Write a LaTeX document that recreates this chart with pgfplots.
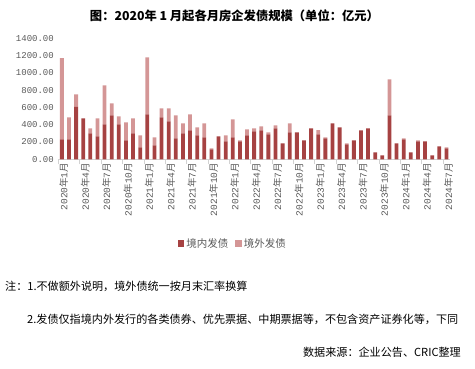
\documentclass[border=0pt]{standalone}
\usepackage{fontspec}
\setmainfont{Noto Sans CJK SC}
\newfontfamily\monof{Liberation Mono}
\usepackage{pgfplots}
\usepackage{pgfplotstable}
\pgfplotsset{compat=1.18}
\definecolor{domc}{RGB}{166,66,66}
\definecolor{forc}{RGB}{212,150,150}
\definecolor{tickgray}{RGB}{89,89,89}
\definecolor{axgray}{RGB}{210,210,210}

\pgfplotstableread{
x dom for
0 232 941
1 232 254
2 606 147
3 475 0
4 301 58
5 266 209
6 405 452
7 510 138
8 405 93
9 220 208
10 301 174
11 139 139
12 521 660
13 162 93
14 486 105
15 440 151
16 243 267
17 301 116
18 336 185
19 278 93
20 255 162
21 116 11
22 266 0
23 208 70
24 255 208
25 208 12
26 278 69
27 324 35
28 336 46
29 290 23
30 359 35
31 185 0
32 313 104
33 313 0
34 220 0
35 359 0
36 290 48
37 243 12
38 417 0
39 371 0
40 174 11
41 220 0
42 336 0
43 359 0
44 81 0
45 46 0
46 510 416
47 185 0
48 232 11
49 81 0
50 208 12
51 208 0
52 46 0
53 151 0
54 127 12
}\datatable

\newcommand\ml[2]{{\monof #1}年{\monof #2}月}

\begin{document}
\begin{tikzpicture}
\useasboundingbox (0,0) rectangle (475pt,-369pt);
\begin{axis}[
  at={(58.3pt,-159.3pt)}, anchor=south west,
  scale only axis, width=391.7pt, height=120.9pt,
  ybar stacked, bar width=3.8pt,
  xmin=-0.5, xmax=54.5, ymin=0, ymax=1400,
  enlarge x limits=false,
  axis x line*=bottom, axis y line*=left,
  x axis line style={axgray,-},
  y axis line style={draw=none},
  ytick={0,200,...,1400},
  ytick style={draw=none},
  yticklabel={\pgfmathprintnumber[fixed,fixed zerofill,precision=2,1000 sep={},assume math mode=true]{\tick}},
  yticklabel style={font=\monof\fontsize{9}{10}\selectfont, text=tickgray, xshift=-1pt},
  xtick={-0.5,2.5,...,53.5},
  xticklabels={},
  xtick style={axgray, thin},
  xtick align=outside,
  major tick length=5pt,
  extra x ticks={0,3,...,54},
  extra x tick labels={\ml{2020}{1},\ml{2020}{4},\ml{2020}{7},\ml{2020}{10},\ml{2021}{1},\ml{2021}{4},\ml{2021}{7},\ml{2021}{10},\ml{2022}{1},\ml{2022}{4},\ml{2022}{7},\ml{2022}{10},\ml{2023}{1},\ml{2023}{4},\ml{2023}{7},\ml{2023}{10},\ml{2024}{1},\ml{2024}{4},\ml{2024}{7}},
  extra x tick style={major tick length=0pt, tick label style={rotate=90, anchor=east, font=\fontsize{9.5}{10}\selectfont, text=tickgray, yshift=-2pt}},
  legend style={at={(0.446,-0.70)}, anchor=center, draw=none, fill=none,
    font=\fontsize{10.5}{12}\selectfont, text=tickgray, legend columns=2,
    /tikz/every even column/.append style={column sep=5pt}},
  legend image code/.code={\fill[#1] (0pt,-3pt) rectangle (6.5pt,3.5pt);},
]
\addplot[fill=domc, draw=none] table[x=x, y=dom] {\datatable};
\addplot[fill=forc, draw=none] table[x=x, y=for] {\datatable};
\legend{境内发债,境外发债}
\end{axis}
\node[font=\fontsize{12.3}{14}\selectfont\bfseries] at (234.5pt,-16pt) {图：2020年 1 月起各月房企发债规模（单位：亿元）};
\node[anchor=west, inner sep=0pt, font=\fontsize{11.1}{12}\selectfont] at (5pt,-286.5pt) {注：1.不做额外说明，境外债统一按月末汇率换算};
\node[anchor=west, inner sep=0pt, font=\fontsize{11.1}{12}\selectfont] at (27pt,-319pt) {2.发债仅指境内外发行的各类债券、优先票据、中期票据等，不包含资产证券化等，下同};
\node[anchor=east, inner sep=0pt, font=\fontsize{11.1}{12}\selectfont] at (461pt,-352.5pt) {数据来源：企业公告、CRIC整理};
\end{tikzpicture}
\end{document}
